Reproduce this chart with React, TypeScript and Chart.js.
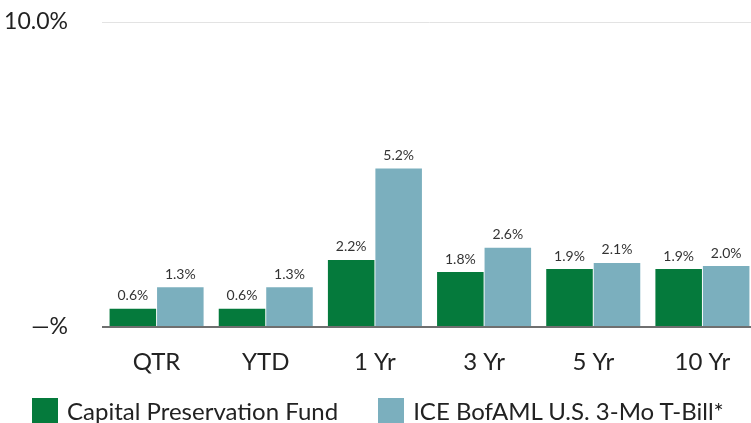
import React, { useEffect, useRef } from "react";
import { Chart, registerables } from "chart.js";

Chart.register(...registerables);

const categories = ["QTR", "YTD", "1 Yr", "3 Yr", "5 Yr", "10 Yr"];
const fundValues = [0.6, 0.6, 2.2, 1.8, 1.9, 1.9];
const benchmarkValues = [1.3, 1.3, 5.2, 2.6, 2.1, 2.0];
const seriesNames = ["Capital Preservation Fund", "ICE BofAML U.S. 3-Mo T-Bill*"];
const yTickValues = [0, 10];
const yTickLabels = ["\u2014%", "10.0%"];

const FONT = "Lato, 'Open Sans', sans-serif";
const GREEN = "#057a3c";
const BLUE = "#7bafbe";
const COLORS = [GREEN, BLUE];

const valueLabels = {
  id: "valueLabels",
  afterDatasetsDraw(chart: any) {
    const ctx = chart.ctx;
    ctx.save();
    ctx.font = `14px ${FONT}`;
    ctx.fillStyle = "#333333";
    ctx.textAlign = "center";
    ctx.textBaseline = "bottom";
    chart.data.datasets.forEach((ds: any, i: number) => {
      const meta = chart.getDatasetMeta(i);
      meta.data.forEach((bar: any, j: number) => {
        ctx.fillText(Number(ds.data[j]).toFixed(1) + "%", bar.x, bar.y - 6);
      });
    });
    ctx.restore();
  },
};

export default function App() {
  const canvasRef = useRef<HTMLCanvasElement | null>(null);

  useEffect(() => {
    if (!canvasRef.current) return;
    const chart = new Chart(canvasRef.current, {
      type: "bar",
      data: {
        labels: categories,
        datasets: [
          {
            label: seriesNames[0],
            data: fundValues,
            backgroundColor: GREEN,
            borderWidth: 0,
            categoryPercentage: 0.87,
            barPercentage: 0.98,
          },
          {
            label: seriesNames[1],
            data: benchmarkValues,
            backgroundColor: BLUE,
            borderWidth: 0,
            categoryPercentage: 0.87,
            barPercentage: 0.98,
          },
        ],
      },
      options: {
        responsive: false,
        animation: false,
        layout: { padding: { top: 22, left: 0, right: 0, bottom: 45 } },
        plugins: {
          legend: { display: false },
          tooltip: { enabled: false },
        },
        scales: {
          x: {
            grid: { display: false, drawTicks: false },
            border: { display: false },
            ticks: {
              color: "#222222",
              font: { family: FONT, size: 24 },
              padding: 21,
            },
            afterFit: (s: any) => {
              s.height = 51;
            },
          },
          y: {
            min: 0,
            max: 10,
            afterBuildTicks: (s: any) => {
              s.ticks = yTickValues.map((v) => ({ value: v }));
            },
            ticks: {
              color: "#222222",
              font: { family: FONT, size: 23 },
              padding: 34,
              callback: (v: any) => {
                const i = yTickValues.indexOf(Number(v));
                return i >= 0 ? yTickLabels[i] : "";
              },
            },
            grid: {
              drawTicks: false,
              color: (c: any) => (c.tick && c.tick.value === 0 ? "#6f6f6f" : "#e3e3e3"),
              lineWidth: (c: any) => (c.tick && c.tick.value === 0 ? 2 : 1),
            },
            border: { display: false },
            afterFit: (s: any) => {
              s.width = 102;
              s.paddingTop = 0;
              s.paddingBottom = 0;
            },
          },
        },
      },
      plugins: [valueLabels],
    });
    return () => chart.destroy();
  }, []);

  return (
    <div
      style={{
        position: "fixed",
        left: 0,
        top: 0,
        width: 751,
        height: 423,
        overflow: "hidden",
        background: "#ffffff",
      }}
    >
      <canvas ref={canvasRef} width={757} height={423} style={{ display: "block" }} />
      <div
        style={{
          position: "absolute",
          left: 32,
          top: 398,
          display: "flex",
          alignItems: "center",
          fontFamily: FONT,
          fontSize: 24,
          color: "#222222",
          whiteSpace: "nowrap",
          lineHeight: "26px",
        }}
      >
        {seriesNames.map((name, i) => (
          <div
            key={name}
            style={{ display: "flex", alignItems: "center", marginRight: i === 0 ? 40 : 0 }}
          >
            <span
              style={{
                display: "inline-block",
                width: 26,
                height: 26,
                background: COLORS[i],
                marginRight: 9,
              }}
            />
            <span>{name}</span>
          </div>
        ))}
      </div>
    </div>
  );
}
